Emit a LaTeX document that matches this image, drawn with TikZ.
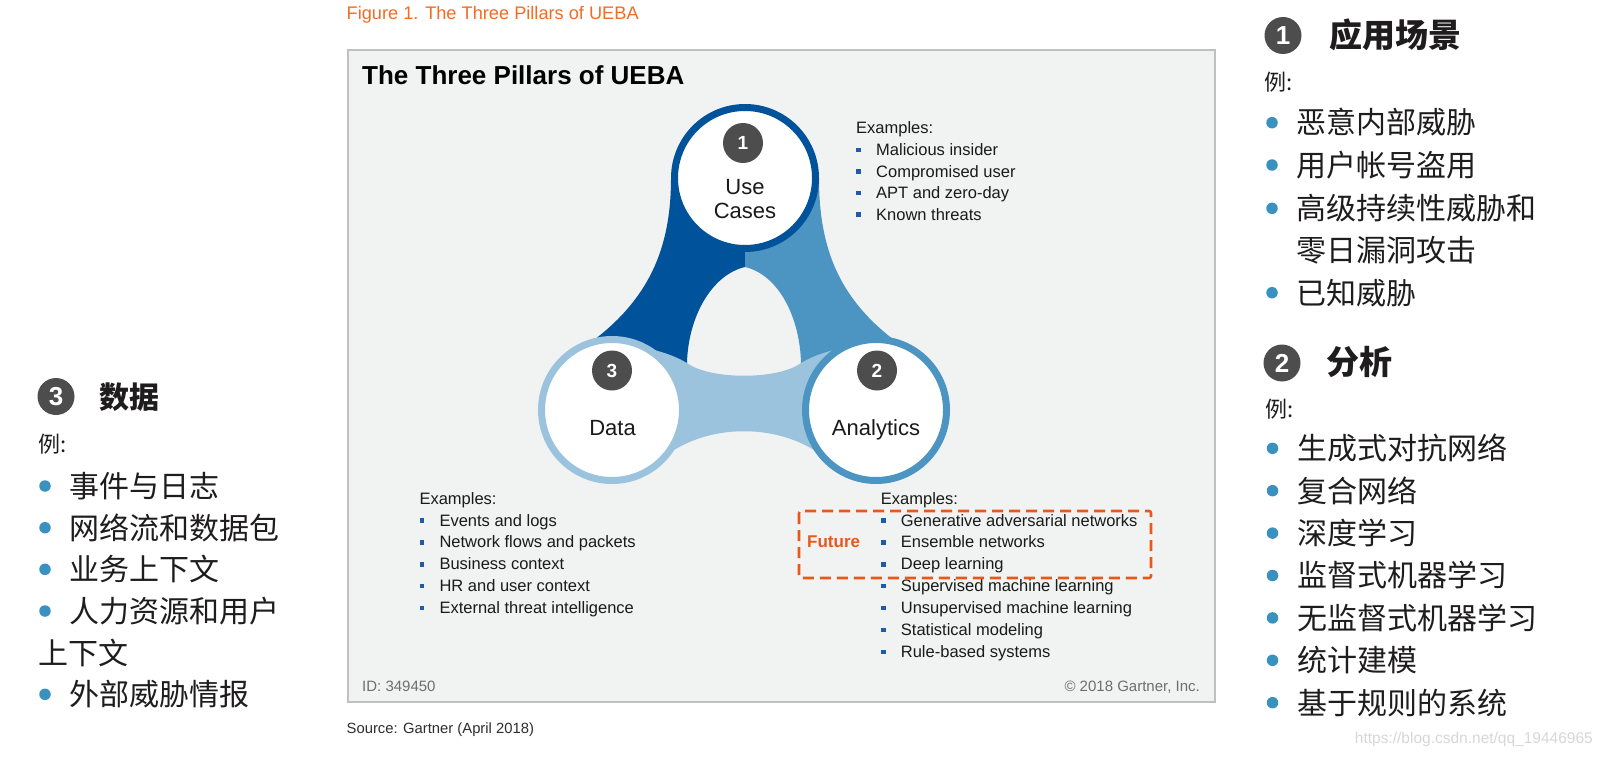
\documentclass[tikz,border=0pt]{standalone}
\usepackage{fontspec}
\setmainfont{Liberation Sans}
\newfontfamily\cjk{Noto Sans CJK SC}
\definecolor{dkblue}{RGB}{0,82,155}
\definecolor{mdblue}{RGB}{76,148,193}
\definecolor{ltblue}{RGB}{156,195,222}
\definecolor{boxfill}{RGB}{241,242,242}
\definecolor{boxline}{RGB}{192,192,192}
\definecolor{badge}{RGB}{78,77,77}
\definecolor{orng}{RGB}{244,108,36}
\definecolor{futr}{RGB}{232,88,28}
\definecolor{sqblue}{RGB}{31,91,168}
\definecolor{dotblue}{RGB}{58,145,192}
\definecolor{txt}{RGB}{26,26,26}
\definecolor{cjktxt}{RGB}{30,28,28}
\definecolor{gtxt}{RGB}{110,110,110}
\definecolor{srctxt}{RGB}{45,45,45}
\definecolor{wm}{RGB}{215,215,215}
\tikzset{
  txtb/.style={inner sep=0pt, anchor=base west, text=txt, font=\fontsize{16.5}{18}\selectfont},
  sqb/.style={rectangle, fill=sqblue, inner sep=0pt, minimum size=4.5pt},
  pillar/.style={circle, fill=white, line width=7pt, minimum size=141pt, inner sep=0pt},
  pname/.style={inner sep=0pt, anchor=base, text=txt, font=\fontsize{22}{22}\selectfont},
  numb/.style={circle, fill=badge, minimum size=40pt, inner sep=0pt, text=white, font=\bfseries\fontsize{19}{19}\selectfont},
  bigbadge/.style={circle, fill=badge, minimum size=37pt, inner sep=0pt, text=white, font=\bfseries\fontsize{26}{26}\selectfont},
  cjkt/.style={inner sep=0pt, anchor=base west, text=cjktxt, font=\cjk\fontsize{30}{30}\selectfont},
  cjkh/.style={inner sep=0pt, anchor=base west, text=cjktxt, font=\cjk\bfseries\fontsize{#1}{#1}\selectfont},
  cjkex/.style={inner sep=0pt, anchor=base west, text=cjktxt, font=\cjk\fontsize{22}{22}\selectfont},
  dot/.style={circle, fill=dotblue, minimum size=11.5pt, inner sep=0pt},
  small/.style={inner sep=0pt, font=\fontsize{15}{15}\selectfont},
}
\begin{document}
\begin{tikzpicture}[x=1pt,y=-1pt]
\useasboundingbox (0,0) rectangle (1603,757);
\fill[white] (0,0) rectangle (1603,757);

% caption
\node[inner sep=0pt, anchor=base west, text=orng, font=\fontsize{18.2}{19}\selectfont] (fig) at (346.5,19.5) {Figure 1. The Three Pillars of UEBA};

% main box
\draw[boxline, fill=boxfill, line width=1.2pt] (348,50) rectangle (1215,702);
\node[inner sep=0pt, anchor=base west, text=black, font=\bfseries\fontsize{26}{26}\selectfont] (title) at (362,85) {The Three Pillars of UEBA};

% bands
\fill[dkblue] (671,178) .. controls (671,250) and (648,300) .. (590,343) -- (612,410) -- (687,363) .. controls (688,318) and (711,275) .. (745,267) -- (745,178) -- cycle;
\fill[mdblue] (819,178) .. controls (819,250) and (840,300) .. (898,343) -- (876,410) -- (801,363) .. controls (800,318) and (779,275) .. (745,267) -- (745,178) -- cycle;
\fill[ltblue] (630,345) .. controls (660,350) and (675,356) .. (687,363) .. controls (710,380) and (778,380) .. (801,363) .. controls (813,356) and (828,350) .. (858,345) -- (876,410) -- (833,465) .. controls (788,420) and (700,420) .. (655,465) -- (612,410) -- cycle;

% pillars
\node[pillar, draw=dkblue] (uc) at (745,178) {};
\node[pillar, draw=mdblue] (an) at (876,410) {};
\node[pillar, draw=ltblue] (da) at (612,410) {};

\node[numb] (n1) at (743,143) {1};
\node[numb] (n2) at (877,370.5) {2};
\node[numb] (n3) at (612,370.5) {3};

\node[pname] (use) at (745,194) {Use};
\node[pname] (cases) at (745,218) {Cases};
\node[pname] (data) at (612.5,435) {Data};
\node[pname] (anl) at (876,435) {Analytics};

% Use cases examples
\node[txtb] (ucex) at (856,133.5) {Examples:};
\foreach \t [count=\i] in {Malicious insider, Compromised user, APT and zero-day, Known threats} {
  \node[sqb] (ucb\i) at (858.5,155.5+21.5*\i-21.5-5.5) {};
  \node[txtb] (uct\i) at (876,155.5+21.5*\i-21.5) {\t};
}

% Data examples
\node[txtb] (daex) at (419.3,504.3) {Examples:};
\foreach \t [count=\i] in {Events and logs, Network flows and packets, Business context, HR and user context, External threat intelligence} {
  \node[sqb] (dab\i) at (422,526+21.9*\i-21.9-5.5) {};
  \node[txtb] (dat\i) at (439.3,526+21.9*\i-21.9) {\t};
}

% Analytics examples
\node[txtb] (anex) at (880.7,504.3) {Examples:};
\foreach \t [count=\i] in {Generative adversarial networks, Ensemble networks, Deep learning, Supervised machine learning, Unsupervised machine learning, Statistical modeling, Rule-based systems} {
  \node[sqb] (anb\i) at (883.3,526+21.9*\i-21.9-5.5) {};
  \node[txtb] (ant\i) at (900.7,526+21.9*\i-21.9) {\t};
}
\draw[futr, line width=2.6pt, dash pattern=on 11pt off 6pt, rounded corners=2pt] (799,511) rectangle (1151,578);
\node[inner sep=0pt, anchor=base west, text=futr, font=\bfseries\fontsize{17}{17}\selectfont] (fut) at (807,547.5) {Future};

% footer
\node[small, anchor=base west, text=gtxt] (id) at (362,691) {ID: 349450};
\node[small, anchor=base east, text=gtxt] (copy) at (1200,691) {\textcopyright{} 2018 Gartner, Inc.};
\node[inner sep=0pt, anchor=base west, text=srctxt, font=\fontsize{14.8}{15}\selectfont] (src) at (346.5,733) {Source: Gartner (April 2018)};

% right side: 1 use cases
\node[bigbadge] (b1) at (1283,35.5) {1};
\node[cjkh=33] (h1) at (1329,47.3) {应用场景};
\node[cjkex] (e1) at (1264,90.6) {例:};
\node[dot] (r1d1) at (1272,122.7) {};
\node[cjkt] (r1t1) at (1296,134) {恶意内部威胁};
\node[dot] (r1d2) at (1272,165) {};
\node[cjkt] (r1t2) at (1296,176.5) {用户帐号盗用};
\node[dot] (r1d3) at (1272,208.3) {};
\node[cjkt] (r1t3) at (1296,219.5) {高级持续性威胁和};
\node[cjkt] (r1t4) at (1296,261.5) {零日漏洞攻击};
\node[dot] (r1d5) at (1272,292.7) {};
\node[cjkt] (r1t5) at (1296,304) {已知威胁};

% right side: 2 analytics
\node[bigbadge] (b2) at (1282,363) {2};
\node[cjkh=33] (h2) at (1326,374) {分析};
\node[cjkex] (e2) at (1265.5,417.2) {例:};
\foreach \t [count=\i] in {生成式对抗网络, 复合网络, 深度学习, 监督式机器学习, 无监督式机器学习, 统计建模, 基于规则的系统} {
  \node[dot] (r2d\i) at (1272.5,448.3+42.4*\i-42.4) {};
  \node[cjkt] (r2t\i) at (1297,459.7+42.4*\i-42.4) {\t};
}

% left side: 3 data
\node[bigbadge] (b3) at (56,396.5) {3};
\node[cjkh=30] (h3) at (99,408.1) {数据};
\node[cjkex] (e3) at (38.5,452.2) {例:};
\node[dot] (l3d1) at (45,486) {};
\node[cjkt] (l3t1) at (69,497.4) {事件与日志};
\node[dot] (l3d2) at (45,527.7) {};
\node[cjkt] (l3t2) at (69,539.1) {网络流和数据包};
\node[dot] (l3d3) at (45,569.3) {};
\node[cjkt] (l3t3) at (69,580.7) {业务上下文};
\node[dot] (l3d4) at (45,611) {};
\node[cjkt] (l3t4) at (69,622.4) {人力资源和用户};
\node[cjkt] (l3t5) at (38.5,664.1) {上下文};
\node[dot] (l3d6) at (45,694.3) {};
\node[cjkt] (l3t6) at (69,705.7) {外部威胁情报};

% watermark
\node[inner sep=0pt, anchor=base east, text=wm, font=\fontsize{15.5}{16}\selectfont] (wmk) at (1593,743) {https://blog.csdn.net/qq\_19446965};
\end{tikzpicture}
\end{document}
